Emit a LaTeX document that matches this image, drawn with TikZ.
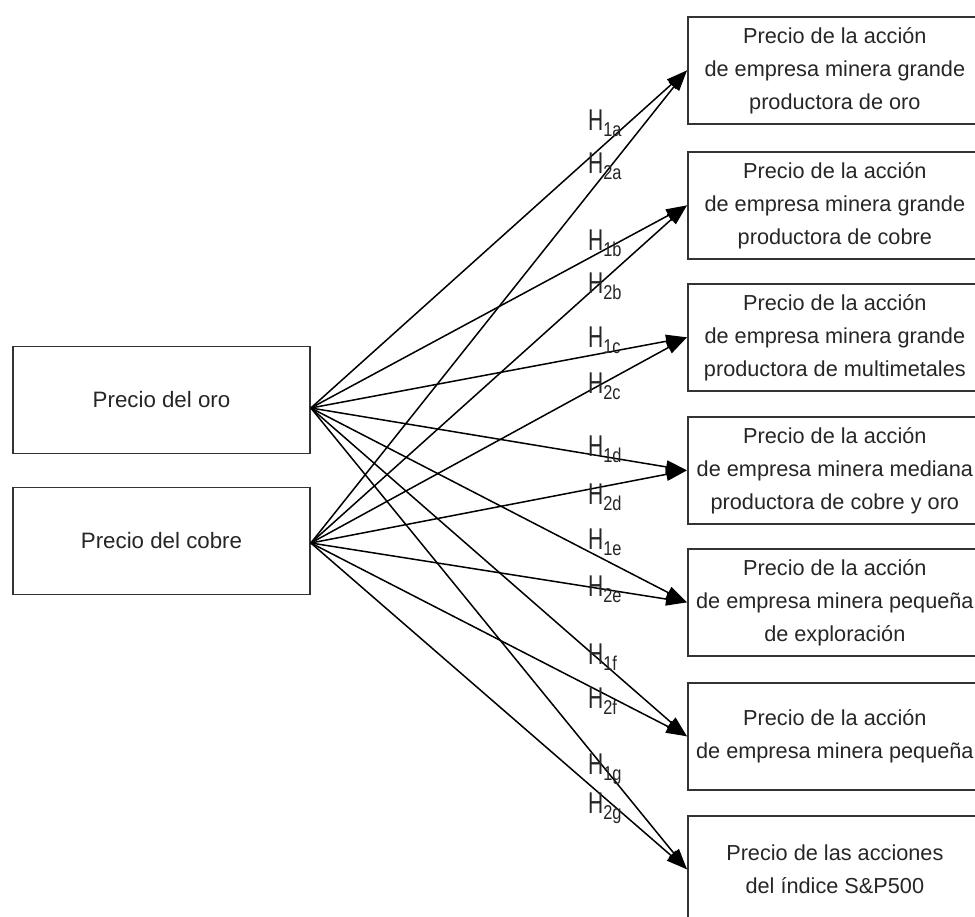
\documentclass[tikz,border=0pt]{standalone}
\usepackage{fontspec}
\setmainfont{Liberation Sans}
\usetikzlibrary{arrows.meta}
\newcommand{\hlab}[1]{\scalebox{0.7}[1]{\fontsize{30}{30}\selectfont H}\scalebox{0.82}[1]{\raisebox{-6pt}{\fontsize{20}{20}\selectfont #1}}}
\begin{document}
\begin{tikzpicture}[x=1pt,y=-1pt,
  rbox/.style={draw=black!80, line width=1.7pt, minimum width=294pt, minimum height=107pt,
    align=center, font=\fontsize{21.7}{33}\selectfont, anchor=north west, inner sep=0pt, text=black!85},
  lbox/.style={draw=black!80, line width=1.7pt, minimum width=297pt, minimum height=107pt,
    align=center, font=\fontsize{22.3}{33}\selectfont, inner sep=0pt, text=black!85},
  arr/.style={line width=1.5pt, -{Triangle[length=21pt,width=13pt]}},
  hl/.style={anchor=base west, inner sep=0pt, text=black!85}]
\useasboundingbox (0,0) rectangle (975,917);
\fill[white] (0,0) rectangle (975,917);
% left boxes
\node[lbox] (gold) at (161.5,400) {Precio del oro};
\node[lbox] (copper) at (161.5,541) {Precio del cobre};
% right boxes
\node[rbox] (r1) at (687,16)  {Precio de la acción\\de empresa minera grande\\productora de oro};
\node[rbox] (r2) at (687,151) {Precio de la acción\\de empresa minera grande\\productora de cobre};
\node[rbox] (r3) at (687,283) {Precio de la acción\\de empresa minera grande\\productora de multimetales};
\node[rbox] (r4) at (687,416) {Precio de la acción\\de empresa minera mediana\\productora de cobre y oro};
\node[rbox] (r5) at (687,548) {Precio de la acción\\de empresa minera pequeña\\de exploración};
\node[rbox] (r6) at (687,682) {Precio de la acción\\de empresa minera pequeña};
\node[rbox] (r7) at (687,815) {Precio de las acciones\\del índice S\&P500};
% connectors
\foreach \i in {1,...,7}{
  \draw[arr] ([yshift=-8pt]gold.east) -- (r\i.west);
  \draw[arr] ([yshift=-2pt]copper.east) -- (r\i.west);
}
% labels
\node[hl] (h1a) at (588,131) {\hlab{1a}};
\node[hl] (h2a) at (588,174) {\hlab{2a}};
\node[hl] (h1b) at (588,251) {\hlab{1b}};
\node[hl] (h2b) at (588,294) {\hlab{2b}};
\node[hl] (h1c) at (588,348) {\hlab{1c}};
\node[hl] (h2c) at (588,393) {\hlab{2c}};
\node[hl] (h1d) at (588,456) {\hlab{1d}};
\node[hl] (h2d) at (588,504) {\hlab{2d}};
\node[hl] (h1e) at (588,549) {\hlab{1e}};
\node[hl] (h2e) at (588,596) {\hlab{2e}};
\node[hl] (h1f) at (588,664) {\hlab{1f}};
\node[hl] (h2f) at (588,708) {\hlab{2f}};
\node[hl] (h1g) at (588,774) {\hlab{1g}};
\node[hl] (h2g) at (588,813) {\hlab{2g}};
\end{tikzpicture}
\end{document}
